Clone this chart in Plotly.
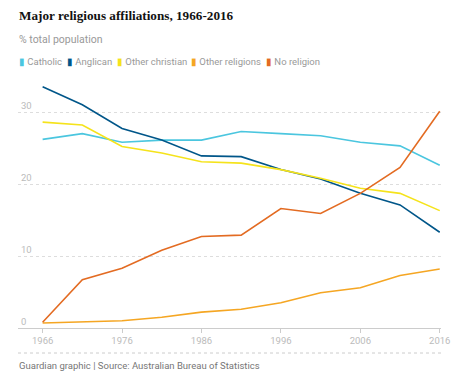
import plotly.graph_objects as go

years = [1966, 1971, 1976, 1981, 1986, 1991, 1996, 2001, 2006, 2011, 2016]
catholic = [26.2, 27.0, 25.8, 26.1, 26.1, 27.3, 27.0, 26.7, 25.8, 25.3, 22.6]
anglican = [33.5, 31.0, 27.7, 26.1, 23.9, 23.8, 22.0, 20.7, 18.7, 17.1, 13.3]
other_christian = [28.6, 28.2, 25.2, 24.3, 23.1, 22.9, 22.0, 20.8, 19.4, 18.7, 16.3]
other_religions = [0.7, 0.8, 1.0, 1.5, 2.2, 2.6, 3.5, 4.9, 5.6, 7.3, 8.2]
no_religion = [0.8, 6.7, 8.3, 10.8, 12.7, 12.9, 16.6, 15.9, 18.7, 22.3, 30.1]

series_names = ["Catholic", "Anglican", "Other christian", "Other religions", "No religion"]
series_values = [catholic, anglican, other_christian, other_religions, no_religion]
colors = ["#4bc6df", "#005689", "#f5e31b", "#f5a623", "#e36b22"]

x_ticks = [1966, 1976, 1986, 1996, 2006, 2016]
y_ticks = [0, 10, 20, 30]

W, H = 460, 377
L, R, T, B = 18, 10, 76, 49
pw = W - L - R
ph = H - T - B

def px(x):
    return (x - L) / pw

def py(y):
    return (H - B - y) / ph

fig = go.Figure()
for name, vals, c in zip(series_names, series_values, colors):
    fig.add_trace(go.Scatter(x=years, y=vals, mode="lines", name=name,
                             line=dict(color=c, width=1.6), showlegend=False))

annotations = []
annotations.append(dict(text="<b>Major religious affiliations, 1966-2016</b>", xref="paper", yref="paper",
                        x=px(17), y=py(16), xanchor="left", yanchor="middle", showarrow=False,
                        font=dict(family="Liberation Serif", size=13.2, color="#121212")))
annotations.append(dict(text="% total population", xref="paper", yref="paper",
                        x=px(17), y=py(39), xanchor="left", yanchor="middle", showarrow=False,
                        font=dict(family="Roboto", size=10.5, color="#999999")))
leg_x = [17, 66, 117, 193, 269]
for name, c, lx in zip(series_names, colors, leg_x):
    annotations.append(dict(text=f"<span style='color:{c}'>▮</span> {name}", xref="paper", yref="paper",
                            x=px(lx), y=py(62), xanchor="left", yanchor="middle", showarrow=False,
                            font=dict(family="Roboto", size=9.5, color="#999999")))
annotations.append(dict(text="Guardian graphic | Source: Australian Bureau of Statistics", xref="paper", yref="paper",
                        x=px(17), y=py(365), xanchor="left", yanchor="middle", showarrow=False,
                        font=dict(family="Roboto", size=9.5, color="#767676")))

fig.update_layout(
    width=W, height=H,
    margin=dict(l=L, r=R, t=T, b=B),
    paper_bgcolor="white", plot_bgcolor="white",
    annotations=annotations,
    shapes=[dict(type="line", xref="paper", yref="paper", x0=0, x1=1, y0=py(353), y1=py(353),
                 line=dict(color="#cccccc", width=1, dash="dot"))],
    xaxis=dict(range=[1962.9, 2016.16], tickvals=x_ticks, ticktext=[str(t) for t in x_ticks],
               showgrid=False, zeroline=False, showline=True, linecolor="#cccccc", linewidth=1,
               ticks="outside", ticklen=4, tickcolor="#cccccc",
               tickfont=dict(family="Roboto", size=9.5, color="#bbbbbb")),
    yaxis=dict(range=[0, 35], tickvals=y_ticks, ticktext=[str(t) for t in y_ticks],
               showgrid=True, gridcolor="#dddddd", griddash="dot", gridwidth=1,
               zeroline=False, ticklabelposition="inside top", ticks="",
               tickfont=dict(family="Roboto", size=9.5, color="#bbbbbb")),
)

fig.write_html("out.html", config={"displayModeBar": False},
               post_script="document.body.style.margin='0';")
